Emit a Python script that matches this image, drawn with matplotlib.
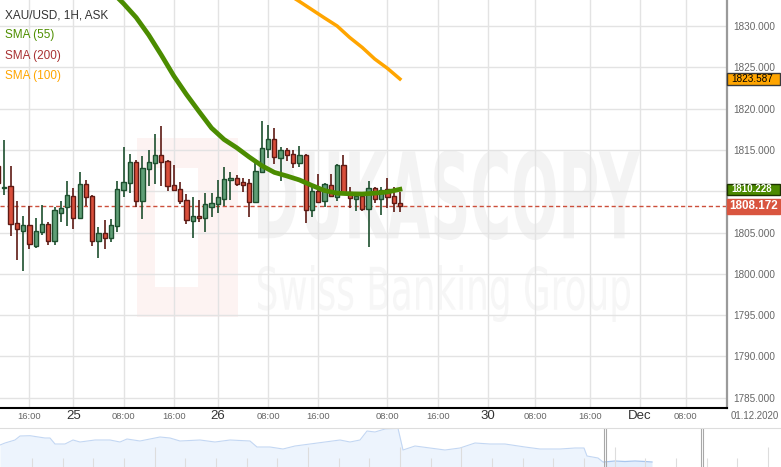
import matplotlib
matplotlib.use('Agg')
import matplotlib.pyplot as plt
import numpy as np
from matplotlib.patches import Rectangle, PathPatch
from matplotlib.textpath import TextPath
from matplotlib.font_manager import FontProperties
from matplotlib.transforms import Affine2D, blended_transform_factory

W, H = 781, 467
plt.rcParams['font.family'] = ['Liberation Sans', 'DejaVu Sans']
NARROW = ['Liberation Sans Narrow', 'Liberation Sans', 'DejaVu Sans']

# hourly candles XAU/USD
opens = [1813.05, 1810.35, 1810.63, 1806.15, 1805.18, 1805.91, 1803.37, 1805.06, 1806.03, 1803.97,
         1807.36, 1808.09, 1809.42, 1806.76, 1810.87, 1809.42, 1803.97, 1804.94, 1804.33, 1805.79,
         1810.15, 1810.99, 1813.54, 1808.81, 1812.69, 1813.41, 1814.38, 1813.66, 1810.75, 1810.27,
         1808.93, 1806.39, 1806.95, 1806.76, 1808.09, 1808.45, 1809.06, 1811.36, 1811.60, 1811.11,
         1810.99, 1808.69, 1812.32, 1815.11, 1816.32, 1814.02, 1814.99, 1814.50, 1813.41, 1814.38,
         1807.72, 1810.02, 1808.81, 1810.75, 1809.30, 1813.17, 1809.90, 1809.06, 1809.42, 1807.85,
         1810.39, 1809.06, 1810.27, 1809.42, 1808.57]
highs = [1813.78, 1816.20, 1813.05, 1808.81, 1807.00, 1808.21, 1806.76, 1808.33, 1806.27, 1808.09,
         1808.81, 1811.23, 1810.39, 1812.32, 1811.36, 1809.50, 1805.67, 1806.51, 1806.63, 1811.23,
         1815.35, 1814.50, 1813.78, 1814.26, 1814.99, 1816.92, 1817.89, 1813.78, 1813.17, 1811.11,
         1809.66, 1809.30, 1808.93, 1809.78, 1809.78, 1811.36, 1812.93, 1812.32, 1811.96, 1811.60,
         1811.48, 1813.78, 1818.50, 1818.01, 1817.65, 1815.35, 1815.23, 1814.99, 1815.47, 1814.45,
         1810.75, 1812.08, 1810.99, 1812.08, 1813.29, 1814.38, 1810.51, 1809.90, 1809.50, 1811.23,
         1810.51, 1810.51, 1811.60, 1810.51, 1809.90]
lows = [1810.39, 1809.54, 1804.58, 1801.67, 1800.34, 1803.00, 1803.12, 1804.70, 1803.49, 1803.49,
        1806.27, 1805.79, 1805.42, 1806.63, 1808.21, 1803.37, 1801.91, 1803.00, 1803.85, 1805.06,
        1809.30, 1809.78, 1808.09, 1806.63, 1810.63, 1810.87, 1810.63, 1810.02, 1810.02, 1808.45,
        1806.03, 1804.33, 1806.27, 1805.06, 1806.88, 1807.36, 1808.21, 1808.93, 1810.63, 1809.90,
        1806.88, 1808.60, 1812.20, 1814.02, 1813.29, 1811.23, 1813.66, 1812.81, 1812.93, 1806.15,
        1806.88, 1808.60, 1808.09, 1809.30, 1808.81, 1809.70, 1807.97, 1807.60, 1807.60, 1803.24,
        1808.57, 1807.12, 1807.97, 1807.48, 1807.48]
closes = [1810.99, 1810.45, 1806.03, 1805.42, 1805.91, 1803.61, 1805.18, 1806.03, 1803.97, 1807.72,
          1807.97, 1809.54, 1806.76, 1810.87, 1809.30, 1803.97, 1804.94, 1804.33, 1805.91, 1810.27,
          1811.11, 1813.54, 1808.81, 1812.81, 1813.54, 1814.38, 1813.54, 1810.63, 1810.15, 1808.81,
          1806.51, 1807.00, 1806.80, 1808.45, 1808.57, 1809.30, 1811.48, 1811.60, 1810.87, 1810.75,
          1808.69, 1812.45, 1815.23, 1816.32, 1814.14, 1814.99, 1814.38, 1813.41, 1814.38, 1807.72,
          1810.02, 1808.69, 1810.87, 1809.42, 1813.17, 1809.78, 1809.18, 1809.42, 1807.85, 1810.39,
          1809.06, 1810.15, 1809.30, 1808.57, 1808.172]

sma55_idx = [19, 20, 22, 24, 26, 28, 30, 32, 34, 36, 38, 40, 42, 44, 46, 48, 50, 52, 54, 56, 58, 60, 62, 64]
sma55 = [1833.47, 1832.71, 1831.03, 1828.91, 1826.49, 1823.95, 1821.72, 1819.66, 1817.65, 1816.26,
         1815.27, 1814.14, 1813.09, 1812.28, 1811.84, 1811.36, 1810.69, 1810.08, 1809.76, 1809.69,
         1809.66, 1809.76, 1809.90, 1810.228]
sma100_idx = [47, 48, 50, 52, 54, 56, 58, 60, 62, 64]
sma100 = [1833.45, 1832.97, 1831.97, 1830.97, 1830.00, 1828.61, 1827.40, 1826.00, 1824.88, 1823.587]

last_price = 1808.172
price_ticks = [1785, 1790, 1795, 1800, 1805, 1810, 1815, 1820, 1825, 1830]
hidden_ticks = [1810]  # covered by the SMA(55) flag
time_ticks = [5, 12, 20, 28, 35, 43, 51, 62, 70, 78, 85.5, 94.3, 102.2, 109.5]
time_labels = ['16:00', '25', '08:00', '16:00', '26', '08:00', '16:00', '08:00', '16:00',
               '30', '08:00', '16:00', 'Dec', '08:00']
day_labels = ['25', '26', '30', 'Dec']

# navigator overview (x in px across the strip, height above bottom)
nav_x = [0, 5, 15, 20, 30, 45, 50, 55, 65, 73, 80, 95, 110, 120, 127, 140, 160, 170, 180, 200,
         215, 230, 250, 257, 270, 283, 295, 310, 325, 340, 350, 360, 367, 375, 385, 398, 403, 415,
         430, 445, 460, 475, 490, 505, 525, 540, 560, 575, 584, 587, 598, 603]
nav_v = [22, 24, 27, 31, 31.3, 29, 29, 23, 23, 27, 25, 27, 27, 25, 28, 26, 30, 29, 26, 27,
         25, 27, 26, 20, 20, 18, 21, 23, 25, 27, 25, 27, 36, 35, 38, 38.7, 17, 21,
         19, 17, 19, 24, 23, 23, 20, 18, 18, 19, 19, 11, 9, 5]
nav2_x = [604, 615, 625, 635, 645, 652]
nav2_v = [5, 6, 5.5, 6, 5.5, 5]

fig = plt.figure(figsize=(W / 100, H / 100), dpi=100)
ax = fig.add_axes([0, 59 / H, 727 / W, 408 / H])
ax.set_xlim(0.318, 116.08)
ax.set_ylim(1783.753, 1833.148)


def watermark(text, x0, y0, x1, y1, weight, color):
    path = TextPath((0, 0), text, size=100, prop=FontProperties(family='DejaVu Sans', weight=weight))
    bb = path.get_extents()
    tr = (Affine2D().translate(-bb.x0, -bb.y0)
          .scale((x1 - x0) / bb.width / W, (y1 - y0) / bb.height / H)
          .translate(x0 / W, 1 - y1 / H) + fig.transFigure)
    ax.add_patch(PathPatch(path, transform=tr, facecolor=color, lw=0, zorder=0.2))


# logo + watermark
px = Affine2D().scale(1 / W, -1 / H).translate(0, 1) + fig.transFigure
ax.add_patch(Rectangle((137, 138), 101, 179, transform=px, color='#fdf3f2', lw=0, zorder=0.1))
ax.add_patch(Rectangle((155, 168), 43, 119, transform=px, color='white', lw=0, zorder=0.15))
watermark('DUKASCOPY', 258, 150, 640, 240, 'bold', '#f3f3f3')
watermark('Swiss Banking Group', 258, 265, 630, 322, 'normal', '#f6f6f6')

ax.set_axisbelow(True)
ax.grid(True, color='#e3e3e3', lw=1)

x = np.arange(len(opens))
o = np.array(opens)
c = np.array(closes)
up = c >= o
faces = np.where(up, '#5f9e76', '#d94f3b')
edges = np.where(up, '#1d4f2e', '#5e1a14')
ax.axhline(last_price, color='#cc4f3b', lw=1, ls=(0, (3, 2)), zorder=1.5)
ax.vlines(x, lows, highs, colors=edges, lw=1.2, zorder=2)
ax.bar(x, np.where(np.abs(c - o) < 0.05, 0.05, c - o), bottom=o, width=0.68,
       color=faces, edgecolor=edges, linewidth=1, zorder=3)

ax.plot(sma55_idx, sma55, color='#4b8c00', lw=3.4, zorder=4)
ax.plot(sma100_idx, sma100, color='#ffa500', lw=2.5, zorder=4)

for s in ['top', 'left']:
    ax.spines[s].set_visible(False)
ax.spines['right'].set_color('#9a9a9a')
ax.spines['right'].set_linewidth(1.6)
ax.spines['bottom'].set_color('black')
ax.spines['bottom'].set_linewidth(1.5)

ax.yaxis.tick_right()
ax.set_yticks(price_ticks, ['' if p in hidden_ticks else f'{p:.3f}' for p in price_ticks])
ax.tick_params(axis='y', length=0, pad=4.5, labelsize=7.2, labelcolor='#666666')
ax.set_xticks(time_ticks, time_labels)
ax.tick_params(axis='x', length=0, pad=5.8)
for lab in ax.get_xticklabels():
    lab.set_va('center')
    lab.set_family(NARROW)
    if lab.get_text() in day_labels:
        lab.set_fontsize(9.5)
        lab.set_color('#333333')
    else:
        lab.set_fontsize(6.8)
        lab.set_color('#666666')

fig.text(731 / W, 1 - 416 / H, '01.12.2020', fontsize=7, family=NARROW, color='#666666', va='center')

# legend
legend = [('XAU/USD, 1H, ASK', '#333333'), ('SMA (55)', '#4f8f00'),
          ('SMA (200)', '#a83232'), ('SMA (100)', '#ffa500')]
for k, (t, col) in enumerate(legend):
    fig.text(5 / W, 1 - (15 + 20.3 * k) / H, t, fontsize=8.5, color=col, va='center')

# price flags on the right scale
bt = blended_transform_factory(fig.transFigure, ax.transData)
flags = [(sma100[-1], '#ffa500', '#3a3a3a', 'black', 'normal', 7.2, 1.35, 731),
         (sma55[-1], '#4c8a00', '#1d3300', 'white', 'bold', 7.0, 1.35, 731),
         (last_price, '#d9553f', None, 'white', 'bold', 8.4, 1.75, 729)]
for val, fc, ec, tc, wt, fs, hgt, tx in flags:
    ax.add_patch(Rectangle((727 / W, val - hgt / 2), 53 / W, hgt, transform=bt, facecolor=fc,
                           edgecolor=ec if ec else fc, lw=1, clip_on=False, zorder=10))
    ax.text(tx / W, val, f'{val:.3f}', transform=bt, fontsize=fs, color=tc, weight=wt,
            va='center', ha='left', clip_on=False, zorder=11)

# navigator strip
nav = fig.add_axes([0, 0, 1, 39 / H])
nav.set_xlim(0, W)
nav.set_ylim(0, 39)
nav.fill_between(nav_x, 0, nav_v, color='#edf4fd', lw=0)
nav.plot(nav_x, nav_v, color='#c3d7f3', lw=0.8)
nav.fill_between(nav2_x, 0, nav2_v, color='#e3eefc', lw=0)
nav.plot(nav2_x, nav2_v, color='#a9c6ee', lw=0.9)
for tx in np.arange(32, W, 30.67):
    tall = int(round((tx - 32) / 30.67)) in (4, 9, 12, 14, 19, 24)
    nav.vlines(tx, 0, 20 if tall else 9, color='#dddddd', lw=0.8)
for hx in (604, 701):
    nav.vlines([hx, hx + 2], 0, 39, color='#a8a8a8', lw=0.8)
for s in ['left', 'right', 'bottom']:
    nav.spines[s].set_visible(False)
nav.spines['top'].set_color('#dddddd')
nav.set_xticks([])
nav.set_yticks([])

fig.savefig('out.png', dpi=100)
